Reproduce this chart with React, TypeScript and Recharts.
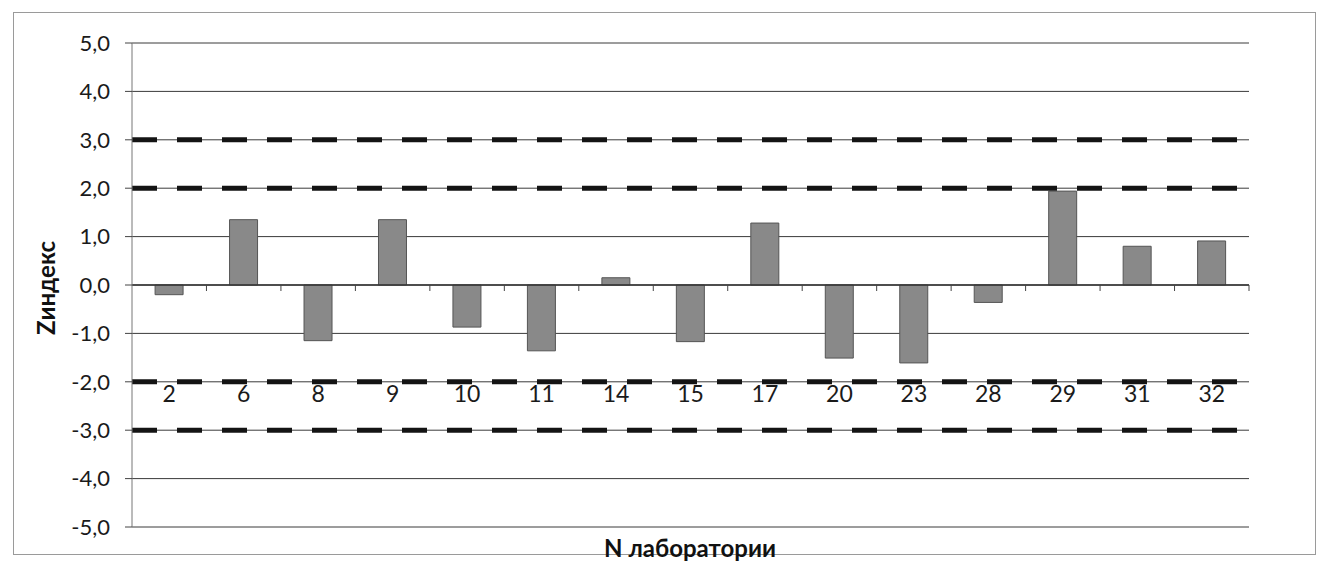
import React from 'react';
import {
  ComposedChart,
  Bar,
  XAxis,
  YAxis,
  CartesianGrid,
  ReferenceLine,
} from 'recharts';

const labs = ['2', '6', '8', '9', '10', '11', '14', '15', '17', '20', '23', '28', '29', '31', '32'];
const zValues = [-0.2, 1.35, -1.15, 1.35, -0.87, -1.36, 0.15, -1.17, 1.28, -1.51, -1.61, -0.36, 1.94, 0.8, 0.91];
const yTicks = [-5, -4, -3, -2, -1, 0, 1, 2, 3, 4, 5];
const limitLines = [3, 2, -2, -3];
const labelLevel = -2.24;

const data = labs.map((lab, i) => ({ lab, z: zValues[i] }));

const W = 1319;
const H = 561;
const X_AXIS_H = 34;
const M = { top: 43, right: 70, bottom: 0, left: 72 };
const Y_AXIS_W = 60;
const PLOT_LEFT = M.left + Y_AXIS_W;
const PLOT_W = W - M.right - PLOT_LEFT;
const PLOT_H = H - M.top - M.bottom - X_AXIS_H;
const Y_MIN = -5;
const Y_MAX = 5;
const yPix = (v: number) => M.top + ((Y_MAX - v) / (Y_MAX - Y_MIN)) * PLOT_H;
const BAND = PLOT_W / labs.length;

const FONT = 'Lato, "Open Sans", sans-serif';

const XTick = (props: any) => {
  const { x, payload, index } = props;
  const zeroY = yPix(0);
  const labelY = yPix(labelLevel);
  const left = x - BAND / 2;
  const right = x + BAND / 2;
  return (
    <g>
      {index > 0 && (
        <line x1={left} x2={left} y1={zeroY} y2={zeroY + 6} stroke="#444" strokeWidth={1} />
      )}
      {index === labs.length - 1 && (
        <line x1={right} x2={right} y1={zeroY} y2={zeroY + 6} stroke="#444" strokeWidth={1} />
      )}
      <text
        x={x}
        y={labelY}
        textAnchor="middle"
        dominantBaseline="central"
        fontFamily={FONT}
        fontSize={23}
        fill="#1a1a1a"
      >
        {payload.value}
      </text>
    </g>
  );
};

export default function App() {
  return (
    <div style={{ position: 'absolute', left: 0, top: 0, width: W, height: H, background: '#fff' }}>
      <div
        style={{
          position: 'absolute',
          left: 13,
          top: 12,
          width: 1303,
          height: 543,
          border: '1px solid #9a9a9a',
          boxSizing: 'border-box',
        }}
      />
      <ComposedChart
        width={W}
        height={H}
        data={data}
        margin={M}
        barCategoryGap="31%"
        style={{ position: 'absolute', left: 0, top: 0 }}
      >
        <CartesianGrid vertical={false} horizontal stroke="#3a3a3a" strokeWidth={1} />
        <XAxis
          dataKey="lab"
          axisLine={false}
          tickLine={false}
          height={X_AXIS_H}
          tick={(p: any) => <XTick {...p} />}
          interval={0}
        />
        <YAxis
          type="number"
          domain={[Y_MIN, Y_MAX]}
          ticks={yTicks}
          width={Y_AXIS_W}
          interval={0}
          axisLine={{ stroke: '#777', strokeWidth: 1 }}
          tickLine={{ stroke: '#444' }}
          tickSize={7}
          tickMargin={15}
          tick={{ fontFamily: FONT, fontSize: 22, fill: '#1a1a1a' }}
          tickFormatter={(v: number) => v.toFixed(1).replace('.', ',')}
        />
        <ReferenceLine y={0} stroke="#333" strokeWidth={1.5} />
        <Bar dataKey="z" fill="#898989" stroke="#555" strokeWidth={1} isAnimationActive={false} />
        {limitLines.map((v) => (
          <ReferenceLine
            key={v}
            y={v}
            stroke="#141414"
            strokeWidth={5}
            strokeDasharray="25 20"
          />
        ))}
      </ComposedChart>
      <div
        style={{
          position: 'absolute',
          left: 45,
          top: 288,
          transform: 'translate(-50%, -50%) rotate(-90deg)',
          fontFamily: FONT,
          fontWeight: 700,
          fontSize: 24,
          color: '#111',
          whiteSpace: 'nowrap',
        }}
      >
        Zиндекс
      </div>
      <div
        style={{
          position: 'absolute',
          left: 690,
          top: 547,
          transform: 'translate(-50%, -50%)',
          fontFamily: FONT,
          fontWeight: 700,
          fontSize: 24,
          color: '#111',
          whiteSpace: 'nowrap',
        }}
      >
        N лаборатории
      </div>
    </div>
  );
}
